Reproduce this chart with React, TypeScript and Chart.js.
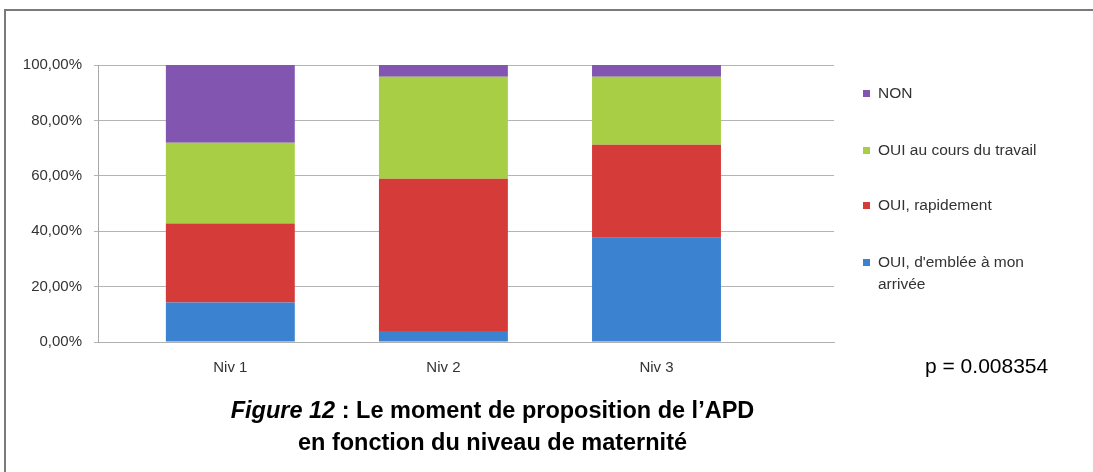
import React, { useEffect, useRef } from "react";
import { Chart, registerables } from "chart.js";

Chart.register(...registerables);

// ---- data ----
const categories = ["Niv 1", "Niv 2", "Niv 3"];
const categoryPositions = [1, 2, 3];
const seriesLabels = [
  "OUI, d'emblée à mon arrivée",
  "OUI, rapidement",
  "OUI au cours du travail",
  "NON",
];
const ouiEmblee = [14.3, 4.0, 37.6];
const ouiRapidement = [28.5, 54.9, 33.6];
const ouiTravail = [29.1, 36.9, 24.6];
const nonValues = [28.1, 4.2, 4.2];
const seriesColors = ["#3B82D0", "#D43B39", "#A8CE46", "#8256B0"];
const yTicks = [0, 20, 40, 60, 80, 100];
const pValueText = "p = 0.008354";

const seriesValues = [ouiEmblee, ouiRapidement, ouiTravail, nonValues];

const FONT = "'Liberation Sans', Arial, sans-serif";

export default function App() {
  const canvasRef = useRef<HTMLCanvasElement | null>(null);

  useEffect(() => {
    const canvas = canvasRef.current;
    if (!canvas) return;
    const chart = new Chart(canvas, {
      type: "bar",
      data: {
        datasets: seriesValues.map((vals, i) => ({
          label: seriesLabels[i],
          data: vals.map((v, j) => ({ x: categoryPositions[j], y: v })),
          backgroundColor: seriesColors[i],
          borderWidth: 0,
          categoryPercentage: 1,
          barPercentage: 0.605,
        })),
      },
      options: {
        animation: false,
        responsive: false,
        maintainAspectRatio: false,
        layout: { padding: { left: 10, top: 65, right: 259, bottom: 0 } },
        plugins: {
          legend: { display: false },
          tooltip: { enabled: false },
          title: { display: false },
        },
        scales: {
          x: {
            type: "linear",
            stacked: true,
            offset: false,
            min: 0.379,
            max: 3.833,
            grid: { display: false, drawTicks: false, offset: false },
            border: { display: true, color: "#b0b0b0", width: 1 },
            afterBuildTicks: (scale: any) => {
              scale.ticks = categoryPositions.map((v) => ({ value: v }));
            },
            afterFit: (scale: any) => {
              scale.height = 130;
            },
            ticks: {
              autoSkip: false,
              maxRotation: 0,
              padding: 17,
              color: "#333",
              font: { family: FONT, size: 15 },
              callback: (v: any) => {
                const idx = categoryPositions.indexOf(Number(v));
                return idx >= 0 ? categories[idx] : "";
              },
            },
          },
          y: {
            stacked: true,
            min: 0,
            max: 100,
            afterBuildTicks: (scale: any) => {
              scale.ticks = yTicks.map((v) => ({ value: v }));
            },
            afterFit: (scale: any) => {
              scale.width = 88;
            },
            grid: {
              color: "#b4b4b4",
              lineWidth: 1,
              drawTicks: true,
              tickLength: 4,
            },
            border: { display: true, color: "#a8a8a8", width: 1 },
            ticks: {
              padding: 12,
              color: "#333",
              font: { family: FONT, size: 15 },
              callback: (v: any) => Number(v).toFixed(2).replace(".", ",") + "%",
            },
          },
        },
      },
    });
    return () => chart.destroy();
  }, []);

  const legendRows = [3, 2, 1, 0];
  const legendCenters = [93, 150, 205, 262];

  return (
    <div
      style={{
        position: "absolute",
        left: 0,
        top: 0,
        width: 1093,
        height: 472,
        overflow: "hidden",
        background: "#fff",
      }}
    >
      <div
        style={{
          position: "absolute",
          left: 4,
          top: 9,
          width: 1200,
          height: 600,
          borderLeft: "2px solid #7a7a7a",
          borderTop: "2px solid #7a7a7a",
        }}
      />
      <canvas
        ref={canvasRef}
        width={1093}
        height={472}
        style={{ position: "absolute", left: 0, top: 0, width: 1093, height: 472 }}
      />
      {legendRows.map((si, r) => (
        <div
          key={si}
          style={{
            position: "absolute",
            left: 863,
            top: legendCenters[r] - 11,
            display: "flex",
            alignItems: "flex-start",
            fontFamily: FONT,
            fontSize: 15.5,
            lineHeight: "22px",
            color: "#333",
          }}
        >
          <div
            style={{
              width: 7,
              height: 7,
              marginTop: 8,
              marginRight: 8,
              background: seriesColors[si],
              flex: "none",
            }}
          />
          <div style={{ width: 165 }}>{seriesLabels[si]}</div>
        </div>
      ))}
      <div
        style={{
          position: "absolute",
          left: 925,
          top: 353,
          fontFamily: FONT,
          fontSize: 21,
          lineHeight: "26px",
          color: "#000",
          whiteSpace: "nowrap",
        }}
      >
        {pValueText}
      </div>
      <div
        style={{
          position: "absolute",
          left: 0,
          width: 985,
          top: 394,
          textAlign: "center",
          fontFamily: FONT,
          fontWeight: "bold",
          fontSize: 23.5,
          lineHeight: "32px",
          color: "#000",
        }}
      >
        <div>
          <i>Figure 12</i> : Le moment de proposition de l’APD
        </div>
        <div>en fonction du niveau de maternité</div>
      </div>
    </div>
  );
}
